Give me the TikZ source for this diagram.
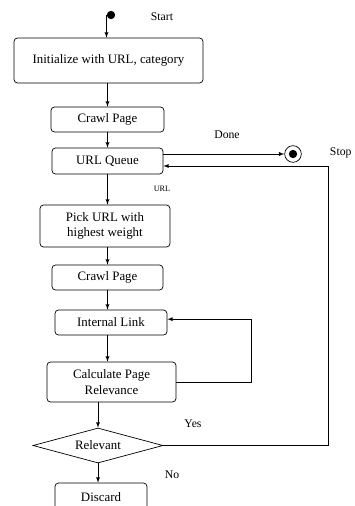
\documentclass[tikz,border=0pt]{standalone}
\usepackage{fontspec}
\setmainfont{Liberation Serif}
\usetikzlibrary{shapes.geometric}

\begin{document}
\begin{tikzpicture}[x=0.03cm, y=-0.03cm, >=latex, line width=0.6pt,
    act/.style={draw, rounded corners=3pt, align=center, inner sep=1pt,
      font=\fontsize{11}{13}\selectfont},
    lbl/.style={font=\fontsize{10}{12}\selectfont},
    dot/.style={circle, fill, inner sep=0pt, minimum size=0.25cm}]
    \useasboundingbox (0,0) rectangle (354,506);

    \node[dot] (start) at (111,15) {};
    \node[act, minimum width=5.67cm, minimum height=1.35cm] (init) at (108.5,60.5) {Initialize with URL, category};
    \node[act, minimum width=3.39cm, minimum height=0.75cm] (crawla) at (107.5,119.5) {Crawl Page};
    \node[act, minimum width=3.33cm, minimum height=0.78cm] (queue) at (107.5,161) {URL Queue};
    \node[act, minimum width=3.9cm, minimum height=1.26cm] (pick) at (105,226) {Pick URL with\\highest weight};
    \node[act, minimum width=3.33cm, minimum height=0.75cm] (crawlb) at (107.5,277.5) {Crawl Page};
    \node[act, minimum width=3.36cm, minimum height=0.75cm] (link) at (111,322.5) {Internal Link};
    \node[act, minimum width=3.87cm, minimum height=1.2cm] (calc) at (111.5,382) {Calculate Page\\Relevance};
    \node[draw, diamond, aspect=3.7, inner sep=0pt, minimum width=3.9cm, minimum height=1.05cm,
      font=\fontsize{11}{13}\selectfont] (rel) at (98,445.5) {Relevant};
    \node[act, minimum width=2.76cm, minimum height=0.84cm] (discard) at (101,497) {Discard};

    \node[circle, draw, inner sep=0pt, minimum size=0.5cm] (stop) at (293,154) {};
    \node[dot] (stopdot) at (stop) {};

    \node[lbl] (lstart) at (162,17) {Start};
    \node[lbl] (ldone) at (227,135) {Done};
    \node[lbl, anchor=east, inner sep=1pt] (lstop) at (353,153) {Stop};
    \node[font=\fontsize{7}{8}\selectfont] (lurl) at (162,189) {URL};
    \node[lbl] (lyes) at (193,424) {Yes};
    \node[lbl] (lno) at (172,475) {No};

    \draw[->] (start.west) -- (start.west |- init.north);
    \draw[->] (crawla.north |- init.south) -- (crawla.north);
    \draw[->] (crawla.south) -- (crawla.south |- queue.north);
    \draw[->] ([yshift=0.21cm]queue.east) -- ([yshift=0.21cm]queue.east -| stop.west);
    \draw[->] (rel.east) -- ++(165,0) |- ([yshift=-0.15cm]queue.east);
    \draw[->] (queue.south) -- (queue.south |- pick.north);
    \draw[->] (crawlb.north |- pick.south) -- (crawlb.north);
    \draw[->] (crawlb.south) -- (crawlb.south |- link.north);
    \draw[->] (crawlb.south |- link.south) -- (crawlb.south |- calc.north);
    \draw[->] (calc.east) -- ++(75,0) |- ([yshift=0.1cm]link.east);
    \draw[->] (rel.north |- calc.south) -- (rel.north);
    \draw[->] (rel.south) -- (rel.south |- discard.north);
\end{tikzpicture}
\end{document}
